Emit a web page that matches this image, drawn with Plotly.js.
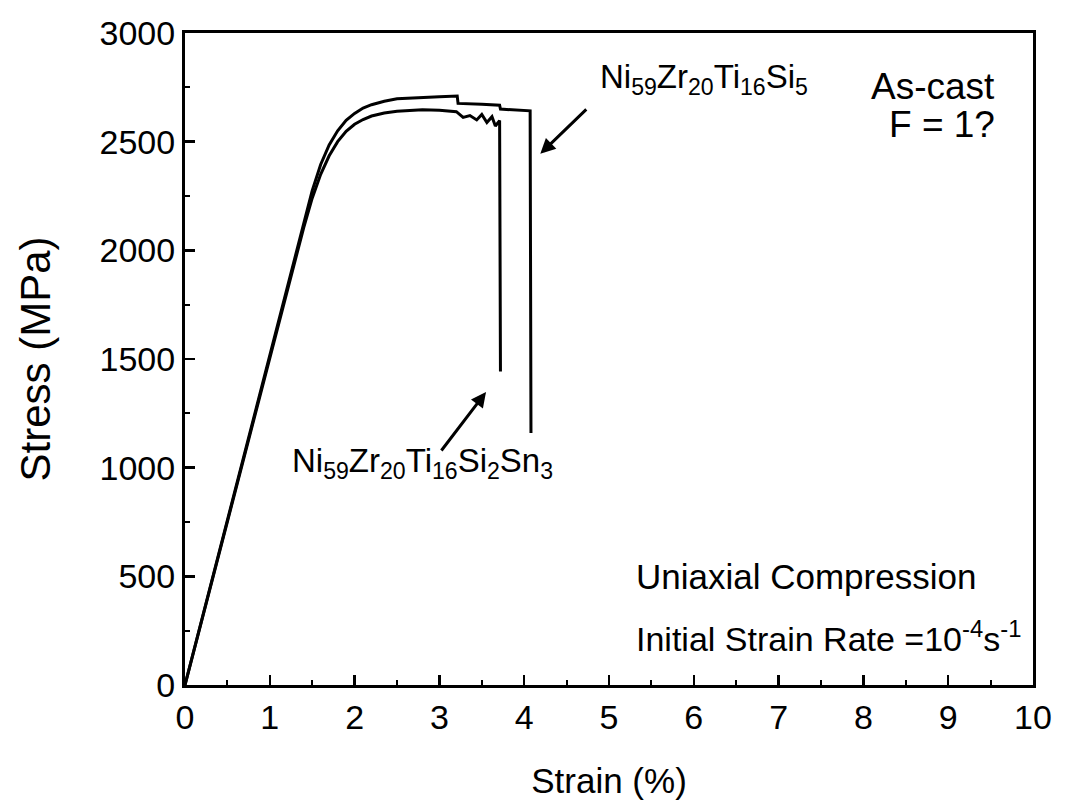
<!DOCTYPE html>
<html>
<head>
<meta charset="utf-8">
<script src="https://cdn.plot.ly/plotly-3.0.1.min.js"></script>
<style>html,body{margin:0;padding:0;background:#fff;}#chart{width:1067px;height:805px;}</style>
</head>
<body>
<div id="chart"></div>
<script>
// Ni59Zr20Ti16Si5 (strain %, stress MPa)
const strainSi5 = [0, 0.5, 1.0, 1.3, 1.4, 1.5, 1.6, 1.7, 1.8, 1.9, 2.0, 2.1, 2.2, 2.35, 2.5, 2.8, 3.0, 3.21, 3.22, 3.5, 3.71, 3.72, 3.9, 4.07, 4.08];
const stressSi5 = [0, 760, 1520, 1975, 2130, 2275, 2395, 2485, 2550, 2598, 2630, 2655, 2670, 2686, 2697, 2704, 2707, 2710, 2676, 2672, 2668, 2650, 2645, 2642, 1160];
// Ni59Zr20Ti16Si2Sn3
const strainSn3 = [0, 0.5, 1.0, 1.3, 1.4, 1.5, 1.6, 1.7, 1.8, 1.9, 2.0, 2.1, 2.2, 2.35, 2.5, 2.8, 3.0, 3.2, 3.28, 3.36, 3.44, 3.5, 3.56, 3.62, 3.66, 3.71, 3.72];
const stressSn3 = [0, 750, 1500, 1955, 2105, 2240, 2350, 2435, 2500, 2548, 2580, 2602, 2618, 2632, 2640, 2647, 2645, 2638, 2612, 2620, 2600, 2625, 2588, 2615, 2572, 2597, 1442];

const font = 'Liberation Sans, Arial, sans-serif';

const traces = [
  {x: strainSi5, y: stressSi5, mode: 'lines', line: {color: '#000', width: 3}, showlegend: false},
  {x: strainSn3, y: stressSn3, mode: 'lines', line: {color: '#000', width: 3}, showlegend: false}
];

const axisCommon = {
  showgrid: false, zeroline: false, showline: true, linecolor: '#000', linewidth: 3,
  mirror: true, ticks: 'inside', ticklen: 10, tickwidth: 2.5, tickcolor: '#000',
  tickfont: {family: font, size: 34, color: '#000'}
};

const layout = {
  width: 1067, height: 805,
  margin: {l: 185, r: 34, t: 33, b: 120},
  paper_bgcolor: '#fff', plot_bgcolor: '#fff',
  font: {family: font, color: '#000'},
  xaxis: Object.assign({}, axisCommon, {
    range: [0, 10], dtick: 1, tick0: 0,
    minor: {dtick: 0.5, ticks: 'inside', ticklen: 5, tickwidth: 2, tickcolor: '#000'},
    title: {text: 'Strain (%)', font: {family: font, size: 35, color: '#000'}, standoff: 34}
  }),
  yaxis: Object.assign({}, axisCommon, {
    range: [0, 3000], dtick: 500, tick0: 0,
    minor: {dtick: 250, ticks: 'inside', ticklen: 5, tickwidth: 2, tickcolor: '#000'},
    title: {text: 'Stress (MPa)', font: {family: font, size: 42, color: '#000'}, standoff: 36}
  }),
  annotations: [
    {x: 4.87, y: 2790, xref: 'x', yref: 'y', xanchor: 'left', yanchor: 'middle', showarrow: false,
     text: 'Ni<sub>59</sub>Zr<sub>20</sub>Ti<sub>16</sub>Si<sub>5</sub>', font: {family: font, size: 33, color: '#000'}},
    {x: 9.58, y: 2755, xref: 'x', yref: 'y', xanchor: 'right', yanchor: 'middle', showarrow: false,
     text: 'As-cast', font: {family: font, size: 37, color: '#000'}},
    {x: 9.58, y: 2580, xref: 'x', yref: 'y', xanchor: 'right', yanchor: 'middle', showarrow: false,
     text: 'F = 1?', font: {family: font, size: 37, color: '#000'}},
    {x: 1.24, y: 1020, xref: 'x', yref: 'y', xanchor: 'left', yanchor: 'middle', showarrow: false,
     text: 'Ni<sub>59</sub>Zr<sub>20</sub>Ti<sub>16</sub>Si<sub>2</sub>Sn<sub>3</sub>', font: {family: font, size: 33, color: '#000'}},
    {x: 5.3, y: 500, xref: 'x', yref: 'y', xanchor: 'left', yanchor: 'middle', showarrow: false,
     text: 'Uniaxial Compression', font: {family: font, size: 35, color: '#000'}},
    {x: 5.3, y: 225, xref: 'x', yref: 'y', xanchor: 'left', yanchor: 'middle', showarrow: false,
     text: 'Initial Strain Rate =10<sup>-4</sup>s<sup>-1</sup>', font: {family: font, size: 34, color: '#000'}},
    {x: 4.19, y: 2444, ax: 4.75, ay: 2655, xref: 'x', yref: 'y', axref: 'x', ayref: 'y',
     showarrow: true, arrowhead: 2, arrowsize: 1, arrowwidth: 3, arrowcolor: '#000', text: ''},
    {x: 3.55, y: 1348, ax: 3.01, ay: 1072, xref: 'x', yref: 'y', axref: 'x', ayref: 'y',
     showarrow: true, arrowhead: 2, arrowsize: 1, arrowwidth: 3, arrowcolor: '#000', text: ''}
  ]
};

Plotly.newPlot('chart', traces, layout, {displayModeBar: false, staticPlot: true});
</script>
</body>
</html>
